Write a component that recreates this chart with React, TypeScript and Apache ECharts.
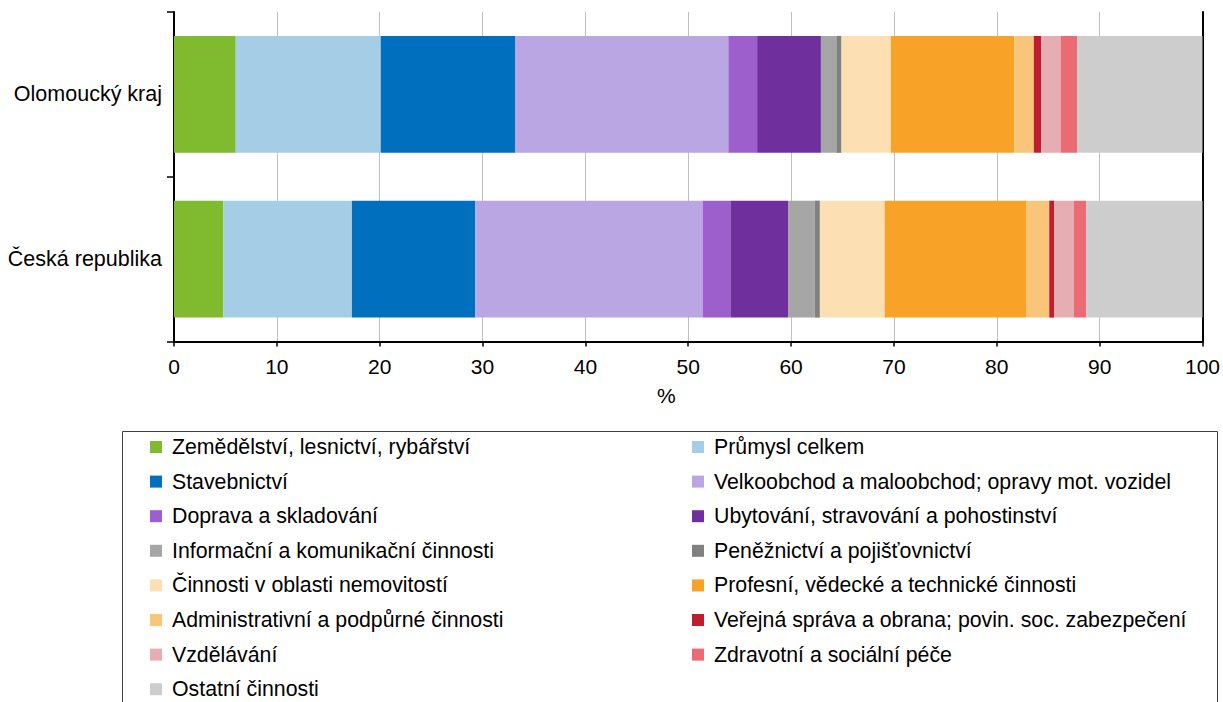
import React, { useEffect, useRef } from "react";
import * as echarts from "echarts";

const regions = ["Olomoucký kraj", "Česká republika"];

const sectors = [
  "Zemědělství, lesnictví, rybářství",
  "Průmysl celkem",
  "Stavebnictví",
  "Velkoobchod a maloobchod; opravy mot. vozidel",
  "Doprava a skladování",
  "Ubytování, stravování a pohostinství",
  "Informační a komunikační činnosti",
  "Peněžnictví a pojišťovnictví",
  "Činnosti v oblasti nemovitostí",
  "Profesní, vědecké a technické činnosti",
  "Administrativní a podpůrné činnosti",
  "Veřejná správa a obrana; povin. soc. zabezpečení",
  "Vzdělávání",
  "Zdravotní a sociální péče",
  "Ostatní činnosti",
];

const olomouckyKraj = [6.0, 14.1, 13.1, 20.7, 2.8, 6.2, 1.5, 0.5, 4.8, 12.0, 1.9, 0.7, 1.9, 1.6, 12.2];
const ceskaRepublika = [4.8, 12.5, 12.0, 22.1, 2.7, 5.6, 2.6, 0.5, 6.3, 13.8, 2.2, 0.5, 1.9, 1.2, 11.3];

const xTicks = [0, 10, 20, 30, 40, 50, 60, 70, 80, 90, 100];
const axisUnit = "%";

const colors = [
  "#80BA2F", "#A6CDE6", "#0070BE", "#BBA6E4", "#9C5FCB",
  "#6F309D", "#A6A6A6", "#808080", "#FDDFB4", "#F8A227",
  "#F9C57A", "#BE1E2D", "#E6AEB2", "#EA6B73", "#CDCDCD",
];

const FONT = '"Liberation Sans", Arial, sans-serif';
const FS = 21;

export default function App() {
  const ref = useRef<HTMLDivElement>(null);

  useEffect(() => {
    if (!ref.current) return;
    const chart = echarts.init(ref.current, undefined, { renderer: "svg" });

    const series = sectors.map((name, i) => ({
      name,
      type: "bar" as const,
      stack: "total",
      barCategoryGap: "29%",
      itemStyle: { color: colors[i] },
      data: [olomouckyKraj[i], ceskaRepublika[i]],
    }));

    const leftNames = sectors.filter((_, i) => i % 2 === 0);
    const rightNames = sectors.filter((_, i) => i % 2 === 1);

    const legendCommon = {
      orient: "vertical" as const,
      icon: "rect",
      itemWidth: 12,
      itemHeight: 12,
      itemGap: 10.6,
      padding: 0,
      height: 400,
      selectedMode: false,
      textStyle: {
        fontFamily: FONT,
        fontSize: 21.3,
        color: "#000",
        lineHeight: 24,
        padding: [0, 0, 0, 5],
      },
    };

    chart.setOption({
      animation: false,
      textStyle: { fontFamily: FONT },
      grid: { left: 174, right: 19, top: 12, height: 329.5, containLabel: false },
      xAxis: {
        type: "value",
        min: xTicks[0],
        max: xTicks[xTicks.length - 1],
        interval: xTicks[1] - xTicks[0],
        axisLine: { show: true, lineStyle: { color: "#000", width: 2 } },
        axisTick: { show: true, length: 5, lineStyle: { color: "#000", width: 1.5 } },
        axisLabel: { fontSize: FS, color: "#000", margin: 14, fontFamily: FONT },
        splitLine: { show: true, lineStyle: { color: "#BFBFBF", width: 1 } },
      },
      yAxis: [
        {
          type: "category",
          data: regions,
          inverse: true,
          axisLine: { show: true, lineStyle: { color: "#000", width: 2 } },
          axisTick: { show: true, length: 7, lineStyle: { color: "#000", width: 1.5 } },
          axisLabel: { fontSize: 21.5, color: "#000", margin: 12, fontFamily: FONT },
        },
        {
          type: "category",
          data: regions,
          inverse: true,
          position: "right",
          axisLine: { show: true, lineStyle: { color: "#000", width: 2 } },
          axisTick: { show: false },
          axisLabel: { show: false },
        },
      ],
      legend: [
        { ...legendCommon, left: 150, top: 435, data: leftNames },
        { ...legendCommon, left: 692, top: 435, data: rightNames },
      ],
      graphic: [
        {
          type: "text",
          left: 657,
          top: 385,
          style: { text: axisUnit, fontSize: FS, fill: "#000", fontFamily: FONT },
        },
        {
          type: "rect",
          shape: { x: 122.5, y: 431.5, width: 1095, height: 300 },
          style: { fill: "none", stroke: "#404040", lineWidth: 1 },
          silent: true,
        },
      ],
      series,
    });

    return () => chart.dispose();
  }, []);

  return (
    <div
      ref={ref}
      style={{ position: "fixed", left: 0, top: 0, width: 1223, height: 702, background: "#fff" }}
    />
  );
}
